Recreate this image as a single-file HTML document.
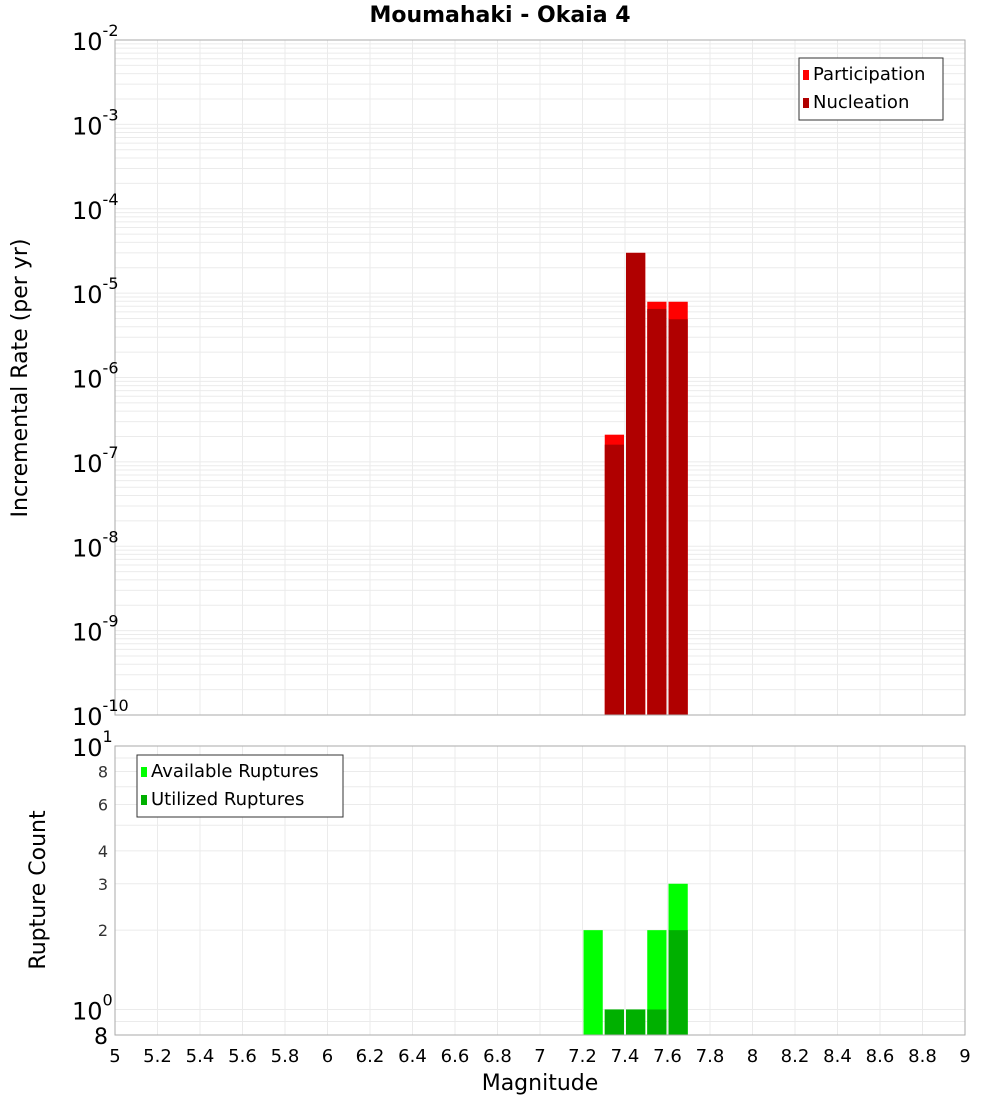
<!DOCTYPE html>
<html><head><meta charset="utf-8"><style>
body{margin:0;background:#fff;font-family:"DejaVu Sans","Liberation Sans",sans-serif}
</style></head><body>
<svg id="c" width="1000" height="1100" xmlns="http://www.w3.org/2000/svg"></svg>
<script>
const mags=[7.25,7.35,7.45,7.55,7.65];
const participation=[0,2.1e-7,3.0e-5,7.9e-6,7.9e-6];
const nucleation=[0,1.6e-7,3.0e-5,6.5e-6,4.9e-6];
const available=[2,1,1,2,3];
const utilized=[0,1,1,1,2];
const xTicks=["5","5.2","5.4","5.6","5.8","6","6.2","6.4","6.6","6.8","7","7.2","7.4","7.6","7.8","8","8.2","8.4","8.6","8.8","9"];
const topExps=[-2,-3,-4,-5,-6,-7,-8,-9,-10];
const botMinor=[["8",8],["6",6],["4",4],["3",3],["2",2]];
const NS="http://www.w3.org/2000/svg";
const svg=document.getElementById('c');
function el(t,a,p){const e=document.createElementNS(NS,t);for(const k in a)e.setAttribute(k,a[k]);(p||svg).appendChild(e);return e;}
const L=115,R=965,T1=40,B1=715,T2=746,B2=1035;
const X=m=>L+(m-5)/4*(R-L);
const Y1=v=>T1+(-2-Math.log10(v))*(B1-T1)/8;
const Y2=v=>T2+(1-Math.log10(v))*(B2-T2)/(1-Math.log10(0.8));
const bw=(R-L)/40;
// title
let t=el('text',{x:500,y:22,'text-anchor':'middle','font-size':22,'font-weight':'bold'});t.textContent="Moumahaki - Okaia 4";

// grids
const g=el('g',{stroke:'#ebebeb','stroke-width':1});

for(let i=0;i<=20;i++){const x=X(5+i*0.2);el('line',{x1:x,x2:x,y1:T1,y2:B1},g);el('line',{x1:x,x2:x,y1:T2,y2:B2},g);}
for(let e=-10;e<-2;e++)for(let k=1;k<10;k++){const y=Y1(k*Math.pow(10,e));el('line',{x1:L,x2:R,y1:y,y2:y},g);}
for(let v of [0.9,1,2,3,4,5,6,7,8,9]){const y=Y2(v);el('line',{x1:L,x2:R,y1:y,y2:y},g);}
// bars
mags.forEach((m,i)=>{
 const x=X(m-0.05)+1,w=bw-2;
 if(participation[i]>0){let r=el('rect',{x:x,y:Y1(participation[i]),width:w,height:B1-Y1(participation[i]),fill:'#ff0000'});}
 if(nucleation[i]>0){let r=el('rect',{x:x,y:Y1(nucleation[i]),width:w,height:B1-Y1(nucleation[i]),fill:'#b00000'});}
 if(available[i]>0){let r=el('rect',{x:x,y:Y2(available[i]),width:w,height:B2-Y2(available[i]),fill:'#00ff00'});}
 if(utilized[i]>0){let r=el('rect',{x:x,y:Y2(utilized[i]),width:w,height:B2-Y2(utilized[i]),fill:'#00b000'});}
});
// frames
let f=el('rect',{x:L,y:T1,width:R-L,height:B1-T1,fill:'none',stroke:'#aaa'});
f=el('rect',{x:L,y:T2,width:R-L,height:B2-T2,fill:'none',stroke:'#aaa'});
// top y ticks
topExps.forEach(e=>{const y=Y1(Math.pow(10,e));const tx=el('text',{x:72,y:y+10,'font-size':24});tx.textContent="10";
 const s=el('tspan',{dy:-14,'font-size':16},tx);s.textContent=String(e);
 });
// bottom y ticks
[[1,"1"],[0,"0"]].forEach(([e,l])=>{const y=Y2(Math.pow(10,e));const tx=el('text',{x:72,y:y+10,'font-size':24});tx.textContent="10";
 const s=el('tspan',{dy:-14,'font-size':16},tx);s.textContent=l;});
botMinor.forEach(([l,v])=>{const tx=el('text',{x:108,y:Y2(v)+6,'font-size':16,'text-anchor':'end',fill:'#333'});tx.textContent=l;});
t=el('text',{x:108,y:B2+9,'font-size':22,'text-anchor':'end'});t.textContent="8";
// x ticks
xTicks.forEach((l,i)=>{const tx=el('text',{x:X(5+i*0.2),y:1062,'font-size':18,'text-anchor':'middle'});tx.textContent=l;});
t=el('text',{x:540,y:1090,'font-size':22,'text-anchor':'middle'});t.textContent="Magnitude";
t=el('text',{x:0,y:0,'font-size':22,'text-anchor':'middle',transform:'translate(27,378) rotate(-90)'});t.textContent="Incremental Rate (per yr)";
t=el('text',{x:0,y:0,'font-size':22,'text-anchor':'middle',transform:'translate(45,890) rotate(-90)'});t.textContent="Rupture Count";
// legends
function legend(x,y,w,items,name){const lg=el('g',{});
 el('rect',{x:x,y:y,width:w,height:items.length*28+6,fill:'#fff',stroke:'#333'},lg);
 items.forEach(([c,l],i)=>{el('rect',{x:x+4,y:y+12+i*28,width:6,height:10,fill:c},lg);const tx=el('text',{x:x+14,y:y+22+i*28,'font-size':18},lg);tx.textContent=l;});}
legend(799,58,144,[['#ff0000','Participation'],['#b00000','Nucleation']],'top-legend');
legend(137,755,206,[['#00ff00','Available Ruptures'],['#00b000','Utilized Ruptures']],'bottom-legend');
</script>
</body></html>
